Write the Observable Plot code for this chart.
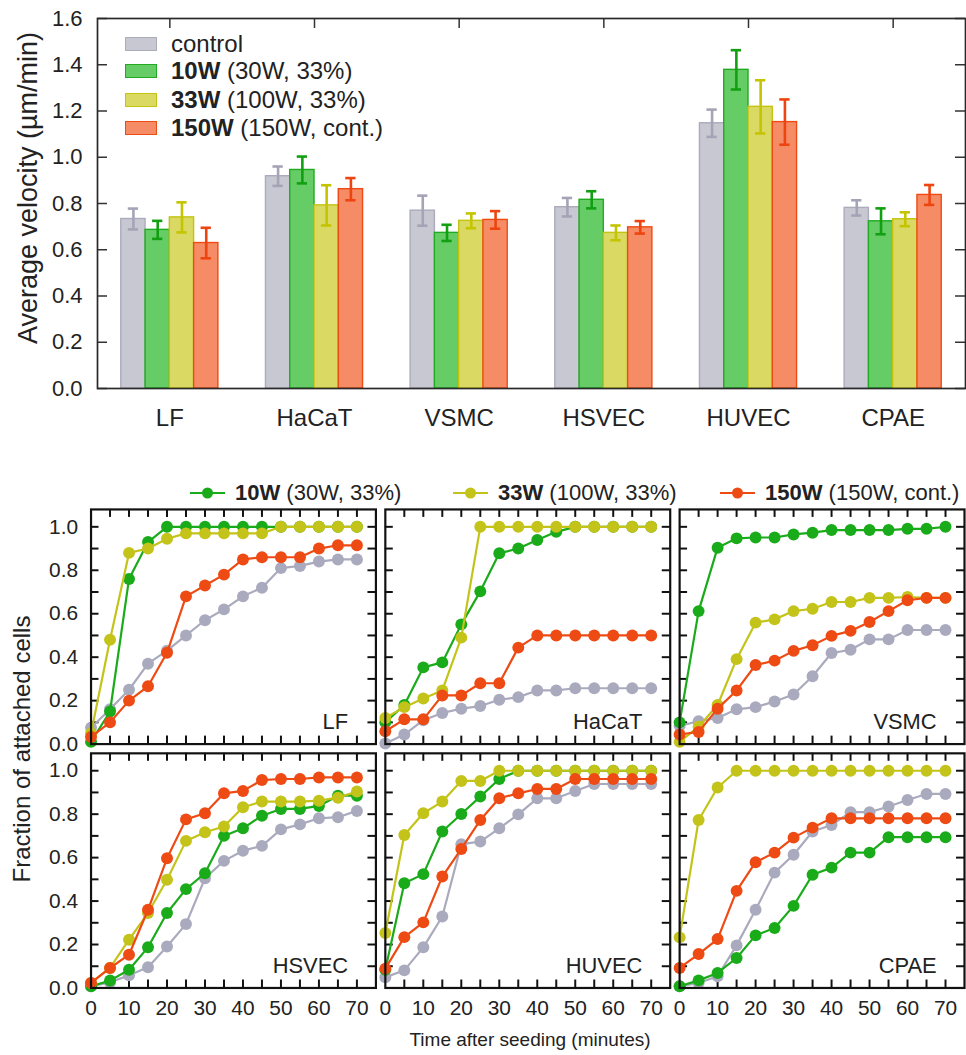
<!DOCTYPE html>
<html><head><meta charset="utf-8">
<script src="https://cdn.jsdelivr.net/npm/d3@7"></script>
<script src="https://cdn.jsdelivr.net/npm/@observablehq/plot@0.6"></script>
<style>
html,body{margin:0;padding:0;background:#fff;overflow:hidden;width:966px;height:1055px;}
body{position:relative;font-family:"Liberation Sans",Arial,sans-serif;color:#222;}
.abs{position:absolute;}
.lg1{position:absolute;left:125px;height:28px;line-height:28px;font-size:24px;display:flex;align-items:center;white-space:nowrap;}
.sw{width:30px;height:12px;margin-right:14px;}
.lg2{position:absolute;top:480px;height:26px;line-height:26px;font-size:22px;display:flex;align-items:center;white-space:nowrap;}
.lg2 svg{margin-right:10px;}
.ylab{position:absolute;transform:translate(-50%,-50%) rotate(-90deg);white-space:nowrap;}
</style></head><body>
<div id="top" class="abs" style="left:0;top:0"></div>
<div id="bottom" class="abs" style="left:0;top:500px"></div>
<div id="legend1"></div>
<div id="legend2"></div>
<div class="ylab" style="left:28px;top:188px;font-size:27px">Average velocity (µm/min)</div>
<div class="ylab" style="left:22px;top:749px;font-size:24px">Fraction of attached cells</div>
<div class="abs" style="left:530px;top:1040px;transform:translate(-50%,-50%);font-size:19px;white-space:nowrap">Time after seeding (minutes)</div>
<script>
// ---------- data ----------
const categories = ["LF", "HaCaT", "VSMC", "HSVEC", "HUVEC", "CPAE"];
const seriesNames = ["control", "10W", "33W", "150W"];
const seriesBold = ["control", "10W", "33W", "150W"];
const seriesDetail = ["", " (30W, 33%)", " (100W, 33%)", " (150W, cont.)"];

const velControl = [0.733, 0.918, 0.769, 0.784, 1.147, 0.781];
const vel10W     = [0.686, 0.945, 0.673, 0.816, 1.378, 0.723];
const vel33W     = [0.740, 0.792, 0.725, 0.673, 1.218, 0.732];
const vel150W    = [0.629, 0.862, 0.729, 0.697, 1.152, 0.837];
const errControl = [0.045, 0.042, 0.065, 0.040, 0.059, 0.033];
const err10W     = [0.039, 0.058, 0.035, 0.037, 0.085, 0.056];
const err33W     = [0.065, 0.087, 0.032, 0.032, 0.115, 0.030];
const err150W    = [0.066, 0.048, 0.038, 0.027, 0.098, 0.043];
const velocityTicks = [0, 0.2, 0.4, 0.6, 0.8, 1.0, 1.2, 1.4, 1.6];

const times = [0, 5, 10, 15, 20, 25, 30, 35, 40, 45, 50, 55, 60, 65, 70];
const lfControl = [0.075,0.16,0.25,0.37,0.43,0.50,0.57,0.62,0.68,0.72,0.81,0.82,0.84,0.85,0.85];
const lf10W     = [0.01,0.15,0.76,0.93,1,1,1,1,1,1,1,1,1,1,1];
const lf33W     = [0.05,0.48,0.88,0.90,0.945,0.97,0.97,0.97,0.97,0.97,1,1,1,1,1];
const lf150W    = [0.033,0.10,0.20,0.266,0.42,0.68,0.73,0.78,0.85,0.86,0.86,0.86,0.90,0.915,0.915];
const hcControl = [0.003,0.044,0.11,0.143,0.163,0.175,0.204,0.216,0.247,0.247,0.257,0.257,0.257,0.257,0.257];
const hc10W     = [0.10,0.18,0.353,0.376,0.551,0.703,0.878,0.90,0.939,0.977,1,1,1,1,1];
const hc33W     = [0.12,0.17,0.21,0.247,0.49,1,1,1,1,1,1,1,1,1,1];
const hc150W    = [0.059,0.114,0.114,0.224,0.224,0.28,0.28,0.444,0.50,0.50,0.50,0.50,0.50,0.50,0.50];
const vsControl = [0.084,0.105,0.12,0.16,0.17,0.196,0.228,0.312,0.419,0.434,0.482,0.482,0.525,0.525,0.525];
const vs10W     = [0.10,0.612,0.904,0.947,0.951,0.951,0.965,0.973,0.985,0.985,0.985,0.985,0.991,0.991,1.0];
const vs33W     = [0.01,0.08,0.18,0.391,0.559,0.574,0.612,0.623,0.654,0.654,0.673,0.673,0.677,0.673,0.673];
const vs150W    = [0.044,0.056,0.163,0.247,0.364,0.384,0.429,0.455,0.498,0.521,0.562,0.612,0.662,0.673,0.673];
const hsControl = [0.008,0.026,0.058,0.095,0.191,0.294,0.505,0.585,0.632,0.654,0.73,0.753,0.781,0.786,0.815];
const hs10W     = [0.008,0.034,0.084,0.187,0.345,0.455,0.528,0.70,0.735,0.793,0.824,0.824,0.838,0.885,0.885];
const hs33W     = [0.023,0.092,0.222,0.345,0.498,0.677,0.717,0.743,0.832,0.858,0.858,0.858,0.862,0.876,0.904];
const hs150W    = [0.023,0.092,0.153,0.36,0.597,0.776,0.804,0.896,0.907,0.957,0.962,0.962,0.969,0.969,0.969];
const huControl = [0.049,0.081,0.187,0.329,0.662,0.674,0.735,0.799,0.873,0.873,0.907,0.939,0.939,0.939,0.939];
const hu10W     = [0.084,0.482,0.524,0.72,0.801,0.881,0.962,1,1,1,1,1,1,1,1];
const hu33W     = [0.253,0.704,0.804,0.858,0.953,0.953,1,1,1,1,1,1,1,1,1];
const hu150W    = [0.089,0.234,0.302,0.513,0.64,0.773,0.873,0.896,0.916,0.916,0.962,0.962,0.962,0.962,0.962];
const cpControl = [0.008,0.023,0.054,0.196,0.36,0.531,0.613,0.72,0.75,0.809,0.809,0.835,0.865,0.893,0.893];
const cp10W     = [0.008,0.035,0.069,0.138,0.242,0.276,0.378,0.521,0.554,0.623,0.623,0.694,0.694,0.694,0.694];
const cp33W     = [0.233,0.773,0.923,1,1,1,1,1,1,1,1,1,1,1,1];
const cp150W    = [0.092,0.156,0.225,0.447,0.579,0.623,0.692,0.738,0.781,0.781,0.781,0.781,0.781,0.781,0.781];
const fractionTicks = [0, 0.2, 0.4, 0.6, 0.8, 1.0];
const timeTicks = [0, 10, 20, 30, 40, 50, 60, 70];

// ---------- styles ----------
const barFill   = {control: "#c8c8d3", "10W": "#66cc66", "33W": "#d9d964", "150W": "#f68c66"};
const barStroke = {control: "#ababbc", "10W": "#22aa22", "33W": "#c4c410", "150W": "#ee4a14"};
const errStroke = {control: "#a4a4b6", "10W": "#12a012", "33W": "#c4c400", "150W": "#ee4410"};
const lineColor = {control: "#aaaabe", "10W": "#1aab1a", "33W": "#c3c31a", "150W": "#ee4a14"};
const FONT = '"Liberation Sans", Arial, sans-serif';

// ---------- top chart ----------
const velArrays = [velControl, vel10W, vel33W, vel150W];
const errArrays = [errControl, err10W, err33W, err150W];
const topRows = [];
categories.forEach((c, i) => seriesNames.forEach((s, j) =>
  topRows.push({cat: c, series: s, v: velArrays[j][i], e: errArrays[j][i]})));

const TW = 966, TH = 438, TL = 97, TR = 1, TT = 18, TB = 50;
const facetW = (TW - TL - TR) / categories.length;
const frameH = TH - TT - TB;
const xPadOuter = 0.98;
const xStep = facetW / (seriesNames.length + 2 * xPadOuter);

const topPlot = Plot.plot({
  width: TW, height: TH, marginLeft: TL, marginRight: TR, marginTop: TT, marginBottom: TB,
  style: {fontFamily: FONT, fontSize: "22px", color: "#222", background: "transparent", overflow: "visible"},
  fx: {domain: categories, paddingInner: 0, paddingOuter: 0, round: false, label: null},
  x: {domain: seriesNames, paddingInner: 0, paddingOuter: xPadOuter, round: false, axis: null},
  y: {domain: [0, 1.6], label: null},
  marks: [
    Plot.barY(topRows, {fx: "cat", x: "series", y: "v", fill: d => barFill[d.series], stroke: d => barStroke[d.series], strokeWidth: 1.4}),
    Plot.ruleX(topRows, {fx: "cat", x: "series", y1: d => d.v - d.e, y2: d => d.v + d.e, stroke: d => errStroke[d.series], strokeWidth: 2.6}),
    Plot.tickY(topRows, {fx: "cat", x: "series", y: d => d.v - d.e, stroke: d => errStroke[d.series], strokeWidth: 2.6, inset: 7}),
    Plot.tickY(topRows, {fx: "cat", x: "series", y: d => d.v + d.e, stroke: d => errStroke[d.series], strokeWidth: 2.6, inset: 7}),
    Plot.ruleY(velocityTicks, {fx: () => categories[0], y: d => d, insetRight: facetW - 10, stroke: "#333", strokeWidth: 1.5}),
    Plot.ruleY(velocityTicks, {fx: () => categories[categories.length - 1], y: d => d, insetLeft: facetW - 10, stroke: "#333", strokeWidth: 1.5}),
    Plot.ruleX(categories, {fx: d => d, x: () => seriesNames[2], dx: -xStep / 2, insetBottom: frameH - 10, stroke: "#333", strokeWidth: 1.5}),
    Plot.axisY({ticks: velocityTicks, tickFormat: d3.format(".1f"), tickSize: 0, tickPadding: 15, fontSize: 22}),
    Plot.axisFx({anchor: "bottom", tickSize: 0, tickPadding: 20, fontSize: 24}),
    Plot.frame({facet: "super", stroke: "#2a2a2a", strokeWidth: 1.7})
  ]
});
document.getElementById("top").append(topPlot);

// top legend
const lg1 = document.getElementById("legend1");
const lg1Centers = [44, 71, 100, 128];
seriesNames.forEach((s, j) => {
  const row = document.createElement("div");
  row.className = "lg1";
  row.style.top = (lg1Centers[j] - 14) + "px";
  row.innerHTML = `<div class="sw" style="background:${barFill[s]};border:1.5px solid ${barStroke[s]}"></div>` +
    (j === 0 ? `<span>${seriesBold[j]}</span>` : `<span><b>${seriesBold[j]}</b>${seriesDetail[j]}</span>`);
  lg1.append(row);
});

// ---------- bottom chart ----------
const attach = [
  [lfControl, lf10W, lf33W, lf150W],
  [hcControl, hc10W, hc33W, hc150W],
  [vsControl, vs10W, vs33W, vs150W],
  [hsControl, hs10W, hs33W, hs150W],
  [huControl, hu10W, hu33W, hu150W],
  [cpControl, cp10W, cp33W, cp150W]
];
const rows = [];
categories.forEach((p, i) => seriesNames.forEach((s, j) => times.forEach((t, k) =>
  rows.push({panel: p, col: i % 3, row: Math.floor(i / 3), series: s, t, v: attach[i][j][k]}))));

const BW = 971, BH = 550, BL = 91, BR = 2, BT = 9, BB = 60;
const fxPad = 0.032, fyPad = 0.038;
const panelW = (BW - BL - BR) / (3 - fxPad) * (1 - fxPad);
const panelH = (BH - BT - BB) / (2 - fyPad) * (1 - fyPad);
const minorX = [5, 10, 15, 20, 25, 30, 35, 40, 45, 50, 55, 60, 65, 70];
const minorY = [0.1, 0.2, 0.3, 0.4, 0.5, 0.6, 0.7, 0.8, 0.9, 1.0];

const seriesMarks = [];
seriesNames.forEach(s => {
  const d = rows.filter(r => r.series === s);
  seriesMarks.push(Plot.line(d, {fx: "col", fy: "row", z: "panel", x: "t", y: "v", stroke: lineColor[s], strokeWidth: 2.2}));
  seriesMarks.push(Plot.dot(d, {fx: "col", fy: "row", x: "t", y: "v", r: 6, fill: lineColor[s], stroke: "none"}));
});

const bottomPlot = Plot.plot({
  width: BW, height: BH, marginLeft: BL, marginRight: BR, marginTop: BT, marginBottom: BB,
  style: {fontFamily: FONT, fontSize: "21px", color: "#222", background: "transparent", overflow: "visible"},
  fx: {domain: [0, 1, 2], paddingInner: fxPad, paddingOuter: 0, round: false, axis: null},
  fy: {domain: [0, 1], paddingInner: fyPad, paddingOuter: 0, round: false, axis: null},
  x: {domain: [0, 75], label: null},
  y: {domain: [0, 1.08], label: null},
  marks: [
    Plot.ruleX(minorX, {x: d => d, insetBottom: panelH - 8, stroke: "#111", strokeWidth: 2}),
    Plot.ruleX(minorX, {x: d => d, insetTop: panelH - 8, stroke: "#111", strokeWidth: 2}),
    Plot.ruleY(minorY, {y: d => d, insetRight: panelW - 8, stroke: "#111", strokeWidth: 2}),
    Plot.ruleY(minorY, {y: d => d, insetLeft: panelW - 8, stroke: "#111", strokeWidth: 2}),
    Plot.axisY({ticks: fractionTicks, tickFormat: d3.format(".1f"), tickSize: 0, tickPadding: 13, fontSize: 21}),
    Plot.axisX({ticks: timeTicks, tickFormat: d3.format("d"), tickSize: 0, tickPadding: 12, fontSize: 21}),
    ...seriesMarks,
    Plot.text(categories, {fx: (d, i) => i % 3, fy: (d, i) => Math.floor(i / 3), text: d => d, frameAnchor: "bottom-right", dx: -28, dy: -15, textAnchor: "end", lineAnchor: "bottom", fontSize: 22, fill: "#222"}),
    Plot.frame({stroke: "#111", strokeWidth: 2.2})
  ]
});
document.getElementById("bottom").append(bottomPlot);

// bottom legend
const lg2 = document.getElementById("legend2");
const lg2Left = [190, 453, 720];
[1, 2, 3].forEach((j, n) => {
  const s = seriesNames[j];
  const item = document.createElement("div");
  item.className = "lg2";
  item.style.left = lg2Left[n] + "px";
  item.innerHTML = `<svg width="35" height="20"><line x1="0" y1="10" x2="35" y2="10" stroke="${lineColor[s]}" stroke-width="2"/><circle cx="17.5" cy="10" r="5.5" fill="${lineColor[s]}"/></svg>` +
    `<span><b>${seriesBold[j]}</b>${seriesDetail[j]}</span>`;
  lg2.append(item);
});
</script>
</body></html>
